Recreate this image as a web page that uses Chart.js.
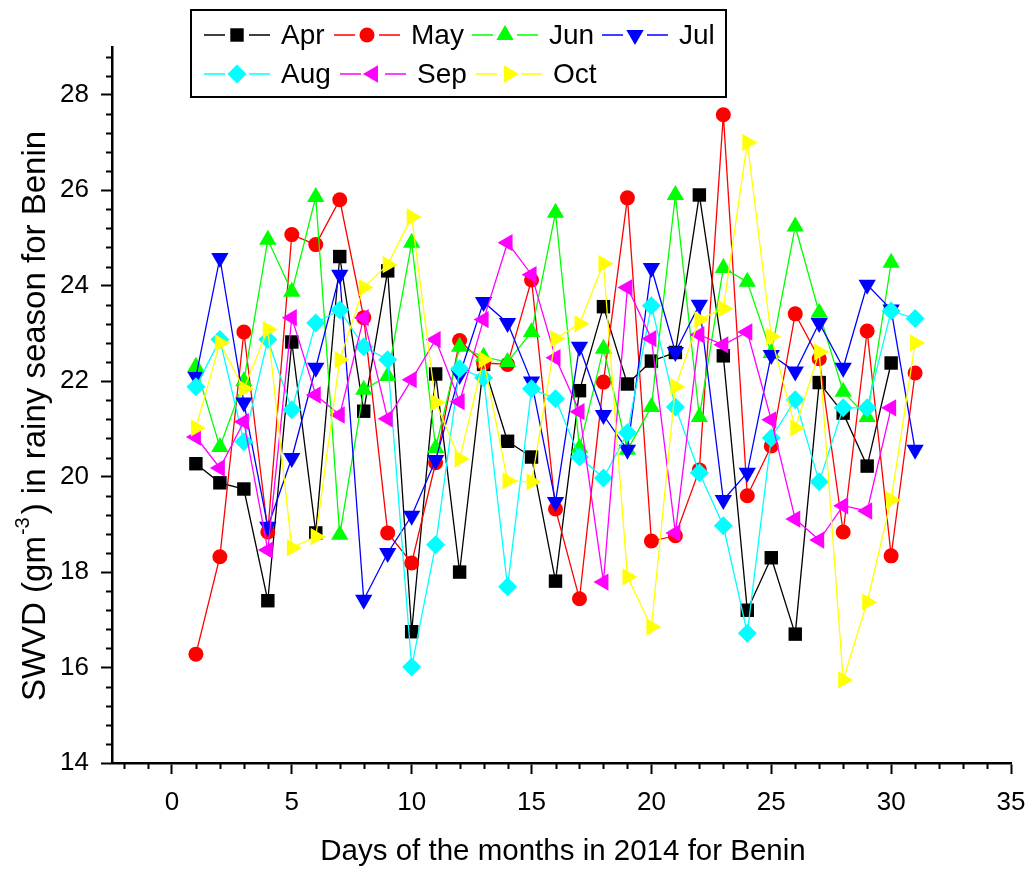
<!DOCTYPE html>
<html>
<head>
<meta charset="utf-8">
<script src="https://cdn.jsdelivr.net/npm/chart.js@4.4.0/dist/chart.umd.min.js"></script>
<style>
  html, body { margin: 0; padding: 0; background: #fff; }
  #wrap { width: 1032px; height: 869px; }
</style>
</head>
<body>
<div id="wrap"><canvas id="grafico" width="1032" height="869"></canvas></div>
<script>
// --- Dados (SWVD, g/m3) ---
const dias = [1, 2, 3, 4, 5, 6, 7, 8, 9, 10, 11, 12, 13, 14, 15, 16, 17, 18, 19, 20, 21, 22, 23, 24, 25, 26, 27, 28, 29, 30, 31];
const meses = ['Apr', 'May', 'Jun', 'Jul', 'Aug', 'Sep', 'Oct'];

const abril = [20.27, 19.87, 19.74, 17.40, 22.82, 18.82, 24.61, 21.37, 24.31, 16.75, 22.15, 18.00, 22.35, 20.74, 20.41, 17.81, 21.80, 23.56, 21.94, 22.42, 22.60, 25.90, 22.53, 17.20, 18.30, 16.70, 21.97, 21.33, 20.22, 22.38];
const maio = [16.28, 18.32, 23.03, 18.84, 25.07, 24.86, 25.80, 23.33, 18.82, 18.19, 20.29, 22.85, 22.38, 22.35, 24.12, 19.32, 17.44, 21.98, 25.84, 18.65, 18.76, 20.14, 27.58, 19.60, 20.64, 23.41, 22.47, 18.84, 23.05, 18.34, 22.17];
const junho = [22.30, 20.62, 22.00, 24.96, 23.87, 25.86, 18.78, 21.82, 22.11, 24.90, 20.60, 22.72, 22.51, 22.40, 23.03, 25.53, 20.60, 22.68, 20.56, 21.46, 25.90, 21.25, 24.37, 24.08, 22.59, 25.24, 23.43, 21.78, 21.25, 24.48];
const julho = [22.09, 24.58, 21.55, 18.95, 20.39, 22.28, 24.23, 17.42, 18.40, 19.18, 20.35, 22.13, 23.66, 23.22, 21.99, 19.47, 22.72, 21.29, 20.56, 24.37, 22.61, 23.60, 19.51, 20.08, 22.55, 22.20, 23.22, 22.28, 24.02, 23.50, 20.56];
const agosto = [21.88, 22.87, 20.73, 22.87, 21.40, 23.22, 23.49, 22.72, 22.45, 16.01, 18.57, 22.26, 22.07, 17.69, 21.84, 21.63, 20.41, 19.97, 20.92, 23.58, 21.46, 20.08, 18.97, 16.72, 20.81, 21.61, 19.89, 21.44, 21.44, 23.47, 23.31];
const setembro = [20.83, 20.18, 21.15, 18.46, 23.33, 21.71, 21.29, 23.33, 21.21, 22.03, 22.87, 21.57, 23.29, 24.90, 24.23, 22.49, 21.36, 17.79, 23.96, 22.89, 18.82, 22.97, 22.76, 23.03, 21.19, 19.11, 18.67, 19.39, 19.28, 21.44];
const outubro = [21.02, 22.80, 21.84, 23.08, 18.51, 18.74, 22.45, 23.96, 24.44, 25.44, 21.55, 20.37, 22.45, 19.91, 19.89, 22.89, 23.20, 24.46, 17.90, 16.85, 21.88, 23.29, 23.52, 27.00, 22.93, 21.02, 22.61, 15.74, 17.37, 19.51, 22.80];

// rótulos dos eixos
const rotulosX = [0, 5, 10, 15, 20, 25, 30, 35];
const rotulosY = [14, 16, 18, 20, 22, 24, 26, 28];

const tituloX = 'Days of the months in 2014 for Benin';
const tituloY = ['SWVD (gm', '-3', ') in rainy season for Benin'];

// --- Estilo de cada série ---
const series = [
  { dados: abril,    cor: '#000000', estilo: 'rect',     rot: 0,   raio: 9.5 },
  { dados: maio,     cor: '#FF0000', estilo: 'circle',   rot: 0,   raio: 7.5 },
  { dados: junho,    cor: '#00FF00', estilo: 'triangle', rot: 0,   raio: 10 },
  { dados: julho,    cor: '#0000FF', estilo: 'triangle', rot: 180, raio: 10 },
  { dados: agosto,   cor: '#00FFFF', estilo: 'rectRot',  rot: 0,   raio: 9.5 },
  { dados: setembro, cor: '#FF00FF', estilo: 'triangle', rot: 270, raio: 10 },
  { dados: outubro,  cor: '#FFFF00', estilo: 'triangle', rot: 90,  raio: 10 }
];

const FONTE = '"Liberation Sans", Arial, sans-serif';

// Desenha um marcador igual aos do Chart.js (usado na legenda)
function desenharMarcador(ctx, estilo, rot, x, y, r) {
  ctx.beginPath();
  if (estilo === 'circle') {
    ctx.arc(x, y, r, 0, Math.PI * 2);
  } else if (estilo === 'rect') {
    const s = r * Math.SQRT1_2;
    ctx.rect(x - s, y - s, 2 * s, 2 * s);
  } else if (estilo === 'rectRot') {
    ctx.moveTo(x, y - r); ctx.lineTo(x + r, y); ctx.lineTo(x, y + r); ctx.lineTo(x - r, y);
    ctx.closePath();
  } else {
    let a = rot * Math.PI / 180;
    ctx.moveTo(x + Math.sin(a) * r, y - Math.cos(a) * r);
    a += Math.PI * 2 / 3;
    ctx.lineTo(x + Math.sin(a) * r, y - Math.cos(a) * r);
    a += Math.PI * 2 / 3;
    ctx.lineTo(x + Math.sin(a) * r, y - Math.cos(a) * r);
    ctx.closePath();
  }
  ctx.fill();
}

// Plugin: ticks menores, títulos dos eixos e legenda em caixa
const extras = {
  id: 'extras',
  afterDraw(chart) {
    const { ctx, chartArea, scales } = chart;
    const sx = scales.x, sy = scales.y;
    ctx.save();

    // ticks menores
    ctx.strokeStyle = '#000';
    ctx.lineWidth = 2;
    ctx.beginPath();
    for (let v = -2; v <= 35; v++) {
      if (v % 5 === 0) continue;
      const px = Math.round(sx.getPixelForValue(v)) + 0.5;
      ctx.moveTo(px, chartArea.bottom);
      ctx.lineTo(px, chartArea.bottom + 6);
    }
    for (let k = 0; k <= 37; k++) {
      if (k % 5 === 0) continue;
      const py = Math.round(sy.getPixelForValue(14 + k * 0.4)) + 0.5;
      ctx.moveTo(chartArea.left - 6, py);
      ctx.lineTo(chartArea.left, py);
    }
    ctx.stroke();

    // título do eixo X
    ctx.fillStyle = '#000';
    ctx.font = '29.5px ' + FONTE;
    ctx.textAlign = 'center';
    ctx.textBaseline = 'middle';
    ctx.fillText(tituloX, 563, 852);

    // título do eixo Y com expoente
    ctx.save();
    ctx.translate(36, 416);
    ctx.rotate(-Math.PI / 2);
    ctx.textAlign = 'left';
    const fN = '33px ' + FONTE, fS = '20px ' + FONTE;
    ctx.font = fN; const w0 = ctx.measureText(tituloY[0]).width;
    ctx.font = fS; const w1 = ctx.measureText(tituloY[1]).width;
    ctx.font = fN; const w2 = ctx.measureText(tituloY[2]).width;
    let x0 = -(w0 + w1 + 4 + w2) / 2;
    ctx.font = fN; ctx.fillText(tituloY[0], x0, 0);
    ctx.font = fS; ctx.fillText(tituloY[1], x0 + w0 + 1, -13);
    ctx.font = fN; ctx.fillText(tituloY[2], x0 + w0 + w1 + 4, 0);
    ctx.restore();

    // legenda
    ctx.lineWidth = 2;
    ctx.strokeStyle = '#000';
    ctx.strokeRect(191, 10, 535, 87);
    const colunas = [[204, 334, 472, 602], [204, 340, 476]];
    const linhasY = [35, 74];
    ctx.font = '28px ' + FONTE;
    ctx.textAlign = 'left';
    ctx.textBaseline = 'middle';
    series.forEach((s, i) => {
      const lin = i < 4 ? 0 : 1;
      const x = colunas[lin][lin === 0 ? i : i - 4];
      const y = linhasY[lin];
      ctx.strokeStyle = s.cor;
      ctx.lineWidth = 1.3;
      ctx.beginPath();
      ctx.moveTo(x, y); ctx.lineTo(x + 21, y);
      ctx.moveTo(x + 45, y); ctx.lineTo(x + 66, y);
      ctx.stroke();
      ctx.fillStyle = s.cor;
      desenharMarcador(ctx, s.estilo, s.rot, x + 33, y, s.raio);
      ctx.fillStyle = '#000';
      ctx.fillText(meses[i], x + 77, y + 1);
    });

    ctx.restore();
  }
};

const datasets = series.map((s, i) => ({
  label: meses[i],
  data: s.dados.map((v, j) => ({ x: dias[j], y: v })),
  borderColor: s.cor,
  backgroundColor: s.cor,
  borderWidth: 1.3,
  tension: 0,
  pointStyle: s.estilo,
  pointRotation: s.rot,
  pointRadius: s.raio,
  pointBorderWidth: 0,
  pointBackgroundColor: s.cor,
  order: series.length - i
}));

new Chart(document.getElementById('grafico'), {
  type: 'line',
  data: { datasets: datasets },
  plugins: [extras],
  options: {
    responsive: false,
    animation: false,
    layout: { padding: { left: 0, right: 21, top: 47, bottom: 0 } },
    plugins: { legend: { display: false }, tooltip: { enabled: false } },
    scales: {
      x: {
        type: 'linear',
        min: -2.5,
        max: 35,
        afterBuildTicks: (s) => { s.ticks = rotulosX.map(v => ({ value: v })); },
        afterFit: (s) => { s.height = 106; s.paddingLeft = 0; s.paddingRight = 0; },
        border: { display: true, color: '#000', width: 2.5 },
        grid: { display: true, drawOnChartArea: false, drawTicks: true, tickLength: 11, tickWidth: 2, tickColor: '#000' },
        ticks: { color: '#000', font: { family: FONTE, size: 26 }, padding: 13, maxRotation: 0, autoSkip: false }
      },
      y: {
        min: 14,
        max: 29,
        afterBuildTicks: (s) => { s.ticks = rotulosY.map(v => ({ value: v })); },
        afterFit: (s) => { s.width = 112; s.paddingTop = 0; s.paddingBottom = 0; },
        border: { display: true, color: '#000', width: 2.5 },
        grid: { display: true, drawOnChartArea: false, drawTicks: true, tickLength: 11, tickWidth: 2, tickColor: '#000' },
        ticks: { color: '#000', font: { family: FONTE, size: 26 }, padding: 12, autoSkip: false }
      }
    }
  }
});
</script>
</body>
</html>
